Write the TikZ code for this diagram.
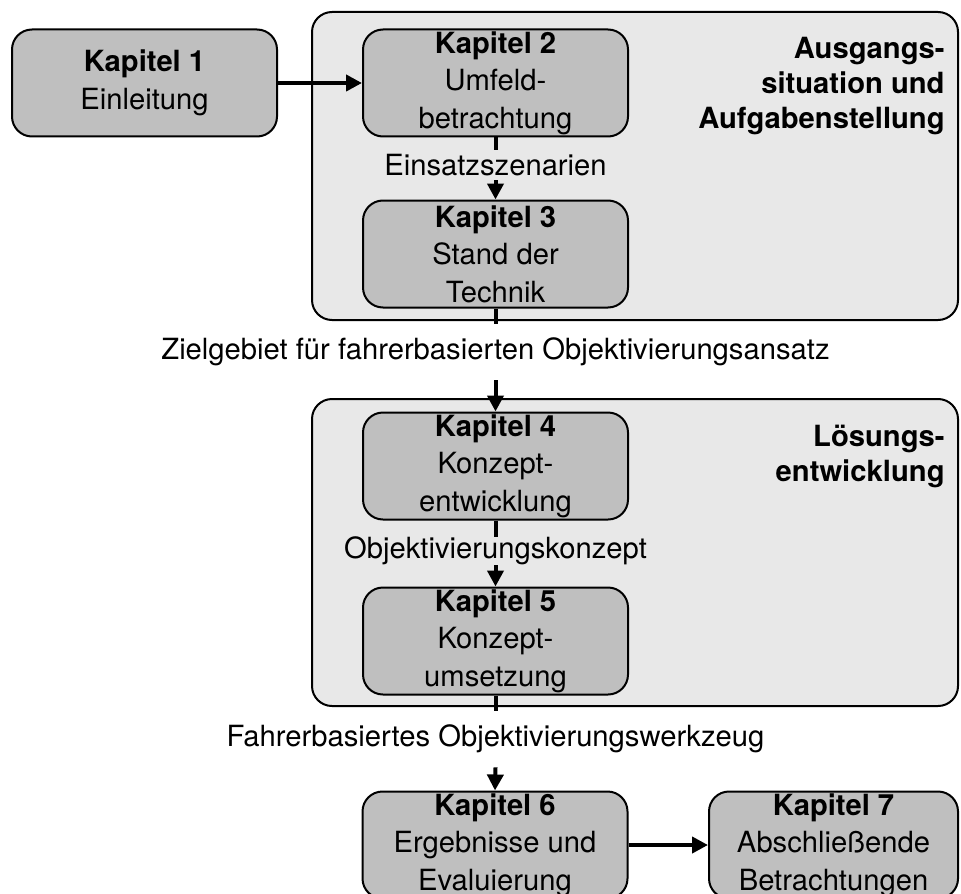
\documentclass[tikz,border=0pt]{standalone}
\usepackage{fontspec}
\setmainfont{TeX Gyre Heros}
\usetikzlibrary{arrows.meta}
\definecolor{kapfill}{HTML}{BFBFBF}
\definecolor{bereichfill}{HTML}{E8E8E8}

\begin{document}
\begin{tikzpicture}[x=0.5pt, y=-0.5pt,
      every node/.style={font=\fontsize{14.6pt}{18.7pt}\selectfont},
      kap/.style={draw, line width=1pt, rounded corners=10pt, fill=kapfill, inner sep=0pt,
        minimum width=132.5pt, minimum height=53.5pt, align=center},
      bereich/.style={draw, line width=1pt, rounded corners=10pt, fill=bereichfill,
        inner sep=0pt, minimum width=323pt},
      titel/.style={anchor=north east, align=right, inner sep=0pt,
        font=\fontsize{14.6pt}{17.5pt}\selectfont\bfseries},
      lbl/.style={inner sep=0pt},
      linie/.style={line width=2pt},
      pfeil/.style={linie, -{Triangle[length=8pt, width=8pt]}}]
      \useasboundingbox (0,0) rectangle (961,893);
      % Bereiche
      \node[bereich, minimum height=154pt] (b1) at (635,166) {};
      \node[bereich, minimum height=153.5pt] (b2) at (635,552.5) {};
      \node[titel] (t1) at (945,37) {Ausgangs-\\situation und\\Aufgabenstellung};
      \node[titel] (t2) at (945,425) {Lösungs-\\entwicklung};
      % Kapitel
      \foreach \n/\x/\y/\txt in {1/144.5/83/Einleitung, 2/495.5/83/Umfeld-\\betrachtung,
                                 3/495.5/254/Stand der\\Technik, 4/495.5/466/Konzept-\\entwicklung,
                                 5/495.5/641/Konzept-\\umsetzung, 6/495/845/Ergebnisse und\\Evaluierung}
        \node[kap] (k\n) at (\x,\y) {\textbf{Kapitel \n}\\\txt};
      \node[kap, minimum width=124.5pt] (k7) at (833.5,845) {\textbf{Kapitel 7}\\Abschließende\\Betrachtungen};
      % Zwischenergebnisse
      \node[lbl, minimum height=15pt] (einsatz) at (495.5,165) {Einsatzszenarien};
      \node[lbl, minimum height=28pt] (ziel) at (495.5,352) {Zielgebiet für fahrerbasierten Objektivierungsansatz};
      \node[lbl, minimum height=14pt] (objkonz) at (495.5,551) {Objektivierungskonzept};
      \node[lbl, minimum height=28pt] (werkzeug) at (495.5,739) {Fahrerbasiertes Objektivierungswerkzeug};
      \draw[pfeil] (k1) -- (k2);
      \draw[linie] (k2.south) -- (einsatz.north);
      \draw[pfeil] (einsatz.south) -- (k3.north);
      \draw[linie] (k3.south) -- (ziel.north);
      \draw[pfeil] (ziel.south) -- (k4.north);
      \draw[linie] (k4.south) -- (objkonz.north);
      \draw[pfeil] (objkonz.south) -- (k5.north);
      \draw[linie] (k5.south) -- (werkzeug.north);
      \draw[pfeil] (werkzeug.south) -- (k6.north);
      \draw[pfeil] (k6) -- (k7);
    \end{tikzpicture}
\end{document}
